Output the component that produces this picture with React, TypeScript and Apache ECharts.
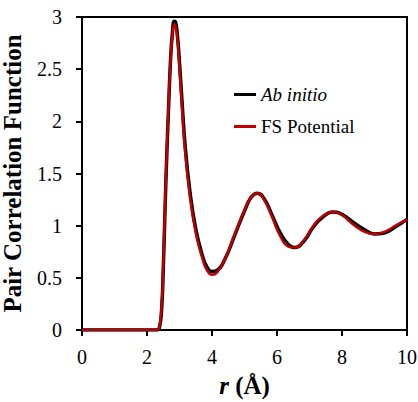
import React, { useEffect, useRef } from "react";
import * as echarts from "echarts";

const rAb = [0, 1, 2, 2.3, 2.38, 2.45, 2.5, 2.55, 2.6, 2.66, 2.72, 2.78, 2.84, 2.88, 2.94, 3.0, 3.08, 3.17, 3.32, 3.5, 3.7, 3.85, 4.0, 4.15, 4.4, 4.7, 5.0, 5.2, 5.4, 5.6, 5.85, 6.1, 6.35, 6.55, 6.85, 7.1, 7.4, 7.75, 8.05, 8.35, 8.7, 9.0, 9.3, 9.65, 10];
const gAb = [0, 0, 0, 0, 0.02, 0.2, 0.58, 1.1, 1.6, 2.1, 2.56, 2.84, 2.96, 2.95, 2.81, 2.56, 2.18, 1.78, 1.33, 0.97, 0.72, 0.6, 0.56, 0.57, 0.68, 0.91, 1.14, 1.27, 1.31, 1.26, 1.1, 0.93, 0.82, 0.79, 0.86, 0.98, 1.08, 1.13, 1.1, 1.03, 0.96, 0.92, 0.93, 0.99, 1.06];
const gFS = [0, 0, 0, 0, 0.03, 0.24, 0.62, 1.14, 1.63, 2.12, 2.56, 2.82, 2.93, 2.91, 2.77, 2.51, 2.12, 1.72, 1.28, 0.93, 0.69, 0.57, 0.53, 0.55, 0.68, 0.92, 1.15, 1.27, 1.31, 1.25, 1.08, 0.9, 0.8, 0.79, 0.87, 0.99, 1.09, 1.13, 1.09, 1.01, 0.94, 0.92, 0.94, 1.0, 1.06];
const seriesNames = ["Ab initio", "FS Potential"];
const colors = ["#000000", "#c00000"];

export default function App() {
  const ref = useRef<HTMLDivElement>(null);
  useEffect(() => {
    if (!ref.current) return;
    document.body.style.margin = "0";
    const chart = echarts.init(ref.current, undefined, { renderer: "svg", width: 418, height: 402 });
    const font = "Times New Roman, Liberation Serif, serif";
    chart.setOption({
      animation: false,
      textStyle: { fontFamily: font },
      grid: { left: 82, top: 17, right: 11, bottom: 72, show: true, borderColor: "#000", borderWidth: 2, containLabel: false, outerBoundsMode: "none" },
      legend: {
        orient: "vertical",
        left: 229,
        top: 80,
        itemWidth: 22,
        itemHeight: 3,
        itemGap: 13,
        icon: "rect",
        data: seriesNames,
        textStyle: {
          fontFamily: font,
          fontSize: 19,
          color: "#000",
          rich: { i: { fontStyle: "italic", fontSize: 19, fontFamily: font, color: "#000" } },
        },
        formatter: (n: string) => (n === "Ab initio" ? "{i|Ab initio}" : n),
      },
      xAxis: {
        type: "value",
        min: 0,
        max: 10,
        interval: 2,
        name: "{i|r}{b| (Å)}",
        nameLocation: "middle",
        nameGap: 43,
        nameTextStyle: {
          fontFamily: font,
          fontSize: 25,
          rich: {
            i: { fontStyle: "italic", fontWeight: "bold", fontSize: 25, fontFamily: font, color: "#000" },
            b: { fontWeight: "bold", fontSize: 25, fontFamily: font, color: "#000" },
          },
        },
        axisLine: { lineStyle: { color: "#000", width: 2 } },
        axisTick: { show: true, inside: false, length: 6, lineStyle: { color: "#000", width: 2 } },
        axisLabel: { fontSize: 20, color: "#000", margin: 17, fontFamily: font },
        splitLine: { show: false },
      },
      yAxis: {
        type: "value",
        min: 0,
        max: 3,
        interval: 0.5,
        name: "Pair Correlation Function",
        nameLocation: "middle",
        nameGap: 57,
        nameTextStyle: { fontWeight: "bold", fontSize: 25, color: "#000", fontFamily: font },
        axisLine: { lineStyle: { color: "#000", width: 2 } },
        axisTick: { show: true, inside: false, length: 6, lineStyle: { color: "#000", width: 2 } },
        axisLabel: { fontSize: 20, color: "#000", margin: 20, fontFamily: font },
        splitLine: { show: false },
      },
      series: [
        {
          name: seriesNames[0],
          type: "line",
          data: rAb.map((r, i) => [r, gAb[i]]),
          showSymbol: false,
          smooth: 0.5,
          lineStyle: { color: colors[0], width: 3.5 },
          itemStyle: { color: colors[0] },
        },
        {
          name: seriesNames[1],
          type: "line",
          data: rAb.map((r, i) => [r, gFS[i]]),
          showSymbol: false,
          smooth: 0.5,
          lineStyle: { color: colors[1], width: 2.5 },
          itemStyle: { color: colors[1] },
        },
      ],
    });
    return () => chart.dispose();
  }, []);
  return <div ref={ref} style={{ width: 418, height: 402 }} />;
}
